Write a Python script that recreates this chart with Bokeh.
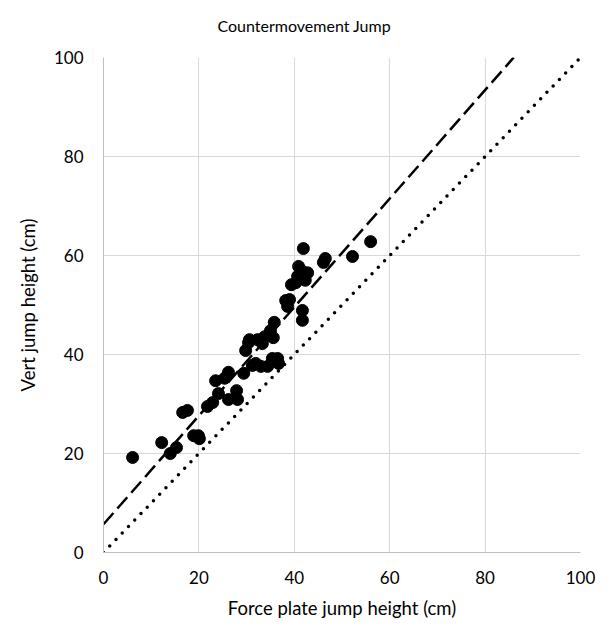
from bokeh.plotting import figure
from bokeh.models import ColumnDataSource, Range1d, FixedTicker
from bokeh.embed import file_html
from bokeh.resources import INLINE

# Force plate jump height (cm)
force_plate = [6.1, 12.2, 14.0, 15.3, 16.6, 17.6, 18.9, 19.9, 20.1, 21.8,
               22.9, 23.5, 24.1, 25.4, 26.2, 26.2, 27.9, 28.1, 29.4, 29.8,
               30.4, 30.6, 31.2, 31.9, 32.3, 33.3, 33.8, 34.4, 35.0, 35.6,
               35.4, 36.3, 35.8, 36.7, 36.5, 38.2, 38.6, 39.0, 39.4, 40.3,
               40.7, 40.9, 41.7, 41.9, 41.7, 41.7, 42.3, 42.8, 46.1, 46.5,
               52.2, 56.0, 33.0, 34.8]
# Vert jump height (cm)
vert_jump = [19.2, 22.2, 20.0, 21.2, 28.3, 28.7, 23.6, 23.6, 23.0, 29.5,
             30.3, 34.7, 32.1, 35.2, 36.4, 30.9, 32.7, 30.9, 36.2, 40.8,
             42.4, 43.0, 37.8, 38.2, 43.0, 42.2, 43.6, 37.6, 44.8, 43.4,
             39.2, 38.8, 46.5, 38.2, 39.2, 50.9, 49.7, 51.1, 54.1, 54.5,
             55.8, 57.8, 56.8, 61.4, 48.9, 46.9, 55.0, 56.5, 58.6, 59.4,
             59.8, 62.8, 37.6, 44.0]

# Regression line (dashed) and line of identity (dotted)
fit_x = [0, 86]
fit_y = [5.7, 100]
identity_x = [0, 100]
identity_y = [0, 100]

ticks = [0, 20, 40, 60, 80, 100]

FONT = "Lato"

p = figure(width=608, height=636, output_backend="svg", toolbar_location=None,
           x_range=Range1d(0, 100), y_range=Range1d(0, 100),
           title="Countermovement Jump\n",
           min_border_left=103, min_border_right=28,
           min_border_top=57, min_border_bottom=84)

p.title.align = "left"
p.title.text_font = FONT
p.title.text_font_size = "16px"
p.title.text_font_style = "normal"
p.title.text_color = "#000000"
p.title.standoff = 8
p.title.offset = 114

p.outline_line_color = None
p.background_fill_color = "white"
p.border_fill_color = "white"

for ax in (p.xaxis[0], p.yaxis[0]):
    ax.ticker = FixedTicker(ticks=ticks)
    ax.major_tick_line_color = None
    ax.minor_tick_line_color = None
    ax.axis_line_color = "#bfbfbf"
    ax.axis_line_width = 1
    ax.major_label_text_font = FONT
    ax.major_label_text_font_size = "17px"
    ax.major_label_text_color = "#000000"
    ax.axis_label_text_font = FONT
    ax.axis_label_text_font_size = "18.5px"
    ax.axis_label_text_font_style = "normal"
    ax.axis_label_text_color = "#000000"

p.xaxis.axis_label = "Force plate jump height (cm)"
p.yaxis.axis_label = "Vert jump height (cm)"
p.xaxis.major_label_standoff = 12
p.yaxis.major_label_standoff = 14
p.xaxis.axis_label_standoff = 10
p.yaxis.axis_label_standoff = 12

p.xgrid.ticker = FixedTicker(ticks=ticks)
p.ygrid.ticker = FixedTicker(ticks=ticks)
p.xgrid.grid_line_color = "#d9d9d9"
p.ygrid.grid_line_color = "#d9d9d9"
p.xgrid.grid_line_width = 1
p.ygrid.grid_line_width = 1

p.line(identity_x, identity_y, line_color="black", line_width=3.5,
       line_dash="0 9", line_cap="round")
p.line(fit_x, fit_y, line_color="black", line_width=2.5, line_dash="15 6")

src = ColumnDataSource(dict(x=force_plate, y=vert_jump))
p.scatter("x", "y", source=src, size=12, fill_color="black", line_color="black")

open("out.html", "w").write(file_html(p, INLINE))
